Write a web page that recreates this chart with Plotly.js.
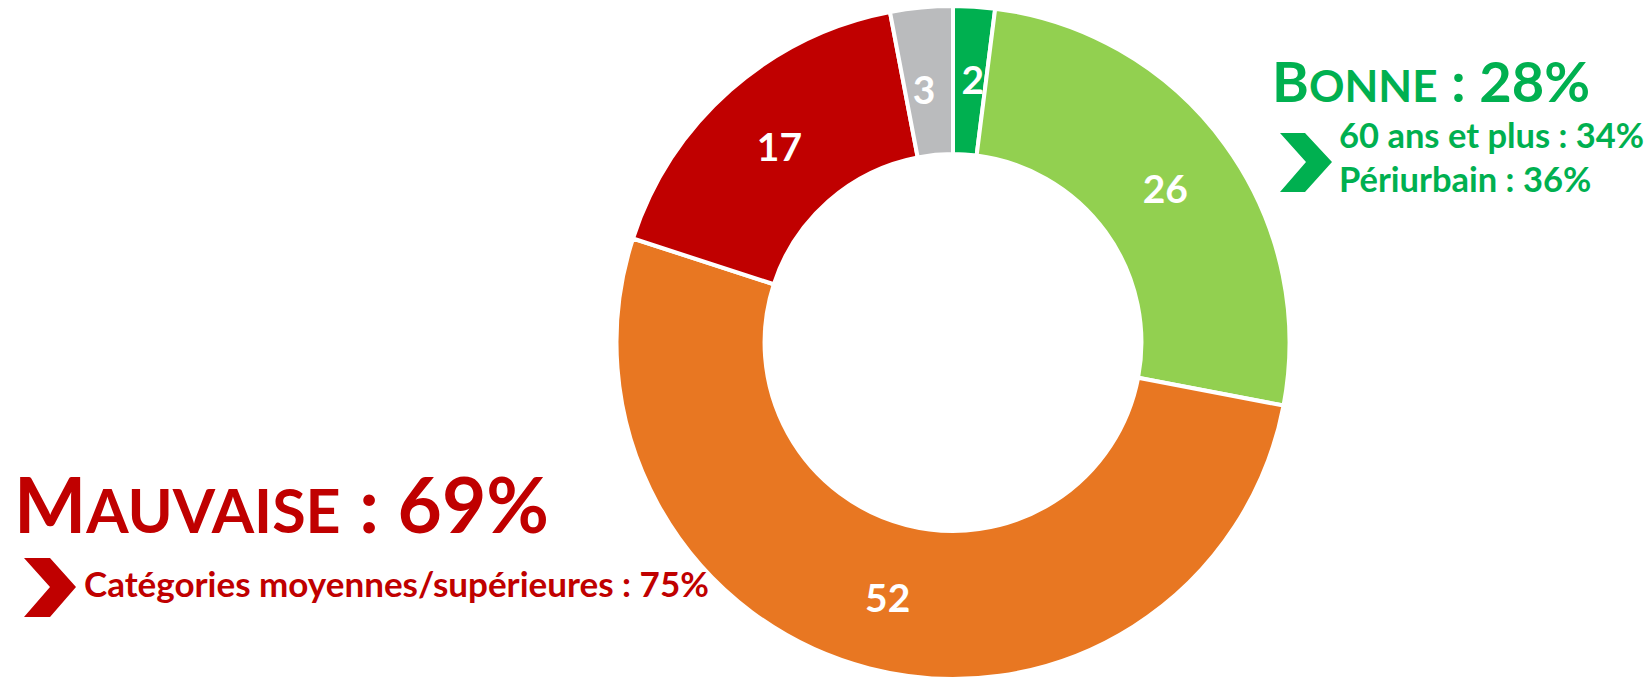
<!DOCTYPE html>
<html>
<head>
<meta charset="utf-8">
<script src="https://cdn.plot.ly/plotly-3.0.1.min.js"></script>
<style>
  html, body { margin: 0; padding: 0; background: #fff; }
  #chart { width: 1650px; height: 683px; }
</style>
</head>
<body>
<div id="chart"></div>
<script>
// ---- data ----
const categories = ["Très bonne", "Plutôt bonne", "Plutôt mauvaise", "Très mauvaise", "Ne sait pas"];
const values = [2, 26, 52, 17, 3];
const sliceColors = ["#00B050", "#92D050", "#E87722", "#C00000", "#BABBBD"];

const goodTitle = ["B", "ONNE", " : 28%"];
const goodLines = ["60 ans et plus : 34%", "Périurbain : 36%"];
const badTitle = ["M", "AUVAISE", " : 69%"];
const badLines = ["Catégories moyennes/supérieures : 75%"];

// ---- helpers (pixel -> paper) ----
const W = 1650, H = 683;
const px = x => x / W;
const py = y => 1 - y / H;
function chevronPath(pts) {
  return "M " + pts.map(p => px(p[0]) + "," + py(p[1])).join(" L ") + " Z";
}

const FONT = "Lato, 'Open Sans', sans-serif";

// thin slices at the top get their label pushed toward mid-ring with a leading blank line
const templates = values.map(v => (v < 5
  ? '<span style="font-size:94px">\u00a0</span><br>%{value}'
  : "%{value}"));

const trace = {
  type: "pie",
  labels: categories,
  values: values,
  sort: false,
  direction: "clockwise",
  rotation: 0,
  hole: 0.56,
  marker: { colors: sliceColors, line: { color: "#FFFFFF", width: 4 } },
  texttemplate: templates,
  textposition: "inside",
  insidetextorientation: "horizontal",
  textfont: { family: FONT, size: 39, color: "#FFFFFF", weight: 700 },
  domain: { x: [(953 - 336.5) / W, (953 + 336.5) / W], y: [1 - 679 / H, 1 - 6 / H] },
  showlegend: false,
  hoverinfo: "label+value"
};

const green = "#00B050", red = "#C00000";

const annotations = [
  {
    text: goodTitle[0] + '<span style="font-size:44px">' + goodTitle[1] + '</span>' + goodTitle[2],
    x: px(1270), y: py(80), xref: "paper", yref: "paper", xanchor: "left", yanchor: "middle",
    showarrow: false, font: { family: FONT, size: 56, color: green, weight: 700 }
  },
  {
    text: goodLines[0],
    x: px(1337), y: py(135), xref: "paper", yref: "paper", xanchor: "left", yanchor: "middle",
    showarrow: false, font: { family: FONT, size: 34.5, color: green, weight: 700 }
  },
  {
    text: goodLines[1],
    x: px(1337), y: py(178), xref: "paper", yref: "paper", xanchor: "left", yanchor: "middle",
    showarrow: false, font: { family: FONT, size: 34.5, color: green, weight: 700 }
  },
  {
    text: badTitle[0] + '<span style="font-size:61px">' + badTitle[1] + '</span>' + badTitle[2],
    x: px(12), y: py(503), xref: "paper", yref: "paper", xanchor: "left", yanchor: "middle",
    showarrow: false, font: { family: FONT, size: 76.5, color: red, weight: 700 }
  },
  {
    text: badLines[0],
    x: px(82), y: py(583), xref: "paper", yref: "paper", xanchor: "left", yanchor: "middle",
    showarrow: false, font: { family: FONT, size: 35, color: red, weight: 700 }
  }
];

const shapes = [
  {
    type: "path", xref: "paper", yref: "paper", line: { width: 0 }, fillcolor: green,
    path: chevronPath([[1280, 133], [1305, 133], [1332, 162], [1305, 192], [1280, 192], [1306, 162]])
  },
  {
    type: "path", xref: "paper", yref: "paper", line: { width: 0 }, fillcolor: red,
    path: chevronPath([[24, 558], [50, 558], [76, 587], [50, 617], [24, 617], [50, 587]])
  }
];

const layout = {
  width: W, height: H,
  margin: { l: 0, r: 0, t: 0, b: 0 },
  paper_bgcolor: "#FFFFFF",
  plot_bgcolor: "#FFFFFF",
  uniformtext: { minsize: 39, mode: "show" },
  annotations: annotations,
  shapes: shapes
};

Plotly.newPlot("chart", [trace], layout, { displayModeBar: false, staticPlot: true });
</script>
</body>
</html>
